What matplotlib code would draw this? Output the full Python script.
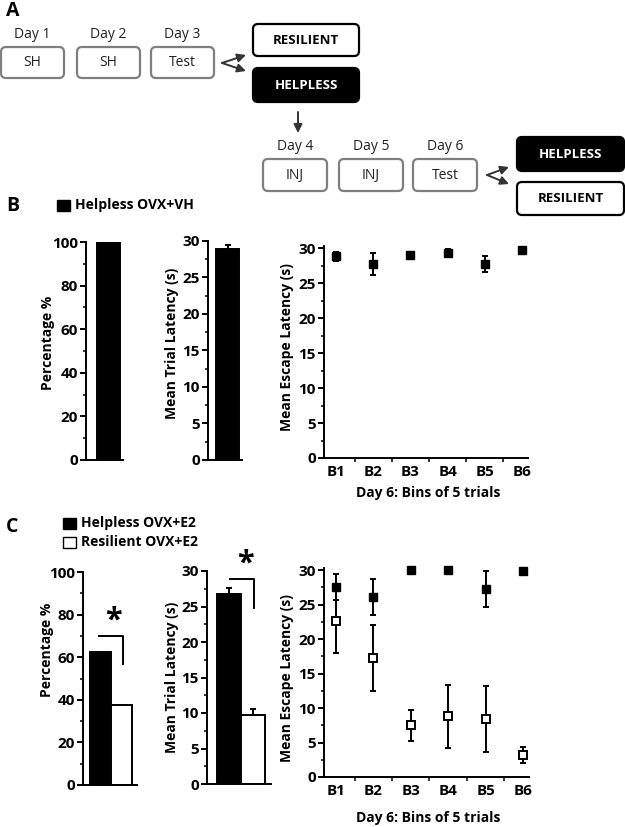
import matplotlib
matplotlib.use("Agg")
import matplotlib.pyplot as plt
from matplotlib.patches import FancyBboxPatch, Rectangle
from matplotlib.ticker import MultipleLocator, FixedLocator

plt.rcParams['font.family'] = ['Open Sans', 'DejaVu Sans']
plt.rcParams['font.weight'] = 'bold'

# ---------------- data ----------------
bins = ['B1', 'B2', 'B3', 'B4', 'B5', 'B6']

b_pct = [100]
b_trial = [28.9]
b_trial_err = [0.5]
b_escape = [28.8, 27.7, 29.0, 29.3, 27.7, 29.7]
b_escape_err = [0.6, 1.55, 0.5, 0.5, 1.15, 0.1]

c_pct = [62.5, 37.5]
c_trial = [26.8, 9.7]
c_trial_err = [0.8, 0.9]
c_help = [27.5, 26.1, 30.0, 30.0, 27.2, 29.9]
c_help_err = [1.9, 2.6, 0.0, 0.0, 2.6, 0.0]
c_res = [22.6, 17.2, 7.5, 8.8, 8.4, 3.2]
c_res_err = [4.6, 4.8, 2.25, 4.6, 4.75, 1.1]

legend_b = ['Helpless OVX+VH']
legend_c = ['Helpless OVX+E2', 'Resilient OVX+E2']

W, H = 625, 827
fig = plt.figure(figsize=(W / 100, H / 100), dpi=100)

LW = 1.4
TICKFS = 11
LABFS = 10


def ax_at(l, t, r, b):
    return fig.add_axes([l / W, 1 - b / H, (r - l) / W, (b - t) / H])


def style(ax):
    for s in ['top', 'right']:
        ax.spines[s].set_visible(False)
    for s in ['left', 'bottom']:
        ax.spines[s].set_linewidth(LW)
    ax.tick_params(axis='both', which='major', direction='out', width=LW, length=4,
                   labelsize=TICKFS, pad=2)
    ax.tick_params(axis='both', which='minor', direction='out', width=LW * 0.8, length=2.5)
    for lab in ax.get_yticklabels() + ax.get_xticklabels():
        lab.set_fontweight('bold')


def ylabel(ax, text, px_x, px_y, l, t, r, b):
    ax.set_ylabel(text, fontsize=LABFS, fontweight='bold')
    ax.yaxis.set_label_coords((px_x - l) / (r - l), (b - px_y) / (b - t))
    ax.yaxis.label.set_verticalalignment('center')


def bar_axis(box, vals, errs, ymax, major, minor, xl, colors, labx, laby, lab):
    l, t, r, b = box
    ax = ax_at(l, t, r, b)
    x = list(range(len(vals)))
    ax.bar(x, vals, width=1.0, color=colors, edgecolor='black', linewidth=LW, zorder=2)
    if errs is not None:
        ax.errorbar(x, vals, yerr=[[0] * len(errs), errs], fmt='none', ecolor='black',
                    elinewidth=LW, capsize=2.5, capthick=LW, zorder=3)
    ax.set_ylim(0, ymax)
    ax.set_xlim(*xl)
    ax.yaxis.set_major_locator(MultipleLocator(major))
    ax.yaxis.set_minor_locator(MultipleLocator(minor))
    ax.set_xticks([])
    style(ax)
    ylabel(ax, lab, labx, laby, l, t, r, b)
    return ax


def escape_axis(box, labx, laby, xlab_y):
    l, t, r, b = box
    ax = ax_at(l, t, r, b)
    ax.set_ylim(0, 30.3)
    ax.set_xlim(0.68, 6.16)
    ax.yaxis.set_major_locator(MultipleLocator(5))
    ax.yaxis.set_minor_locator(MultipleLocator(2.5))
    ax.set_xticks(range(1, 7))
    ax.set_xticklabels(bins)
    ax.xaxis.set_minor_locator(FixedLocator([1.5, 2.5, 3.5, 4.5, 5.5]))
    style(ax)
    ax.tick_params(axis='x', which='major', length=0, pad=5)
    ax.tick_params(axis='x', which='minor', length=3)
    ylabel(ax, 'Mean Escape Latency (s)', labx, laby, l, t, r, b)
    ax.set_xlabel('Day 6: Bins of 5 trials', fontsize=LABFS, fontweight='bold')
    ax.xaxis.set_label_coords((428 - l) / (r - l), (b - xlab_y) / (b - t))
    ax.xaxis.label.set_verticalalignment('center')
    return ax


xpos = list(range(1, 7))

# ---------------- panel A (flow chart) ----------------
fa = fig.add_axes([0, 0, 1, 1], zorder=-1)
fa.set_xlim(0, W)
fa.set_ylim(H, 0)
fa.axis('off')


def rbox(x0, y0, x1, y1, fc, ec, text, tc, fs, weight):
    p = FancyBboxPatch((x0, y0), x1 - x0, y1 - y0,
                       boxstyle='round,pad=0,rounding_size=5',
                       fc=fc, ec=ec, lw=1.6)
    fa.add_patch(p)
    fa.text((x0 + x1) / 2, (y0 + y1) / 2 + 0.5, text, ha='center', va='center',
            color=tc, fontsize=fs, fontweight=weight)


GRAY = '#7f7f7f'
DAYFS = 10
top_days = [('Day 1', 'SH', 1, 64), ('Day 2', 'SH', 77, 140), ('Day 3', 'Test', 151, 214)]
for d, s, x0, x1 in top_days:
    rbox(x0, 47, x1, 78, 'white', GRAY, s, '#222222', DAYFS, 'normal')
    fa.text((x0 + x1) / 2, 35, d, ha='center', va='center', fontsize=DAYFS,
            fontweight='normal', color='#222222')
bot_days = [('Day 4', 'INJ', 263, 327), ('Day 5', 'INJ', 339, 403), ('Day 6', 'Test', 413, 477)]
for d, s, x0, x1 in bot_days:
    rbox(x0, 159, x1, 191, 'white', GRAY, s, '#222222', DAYFS, 'normal')
    fa.text((x0 + x1) / 2, 147, d, ha='center', va='center', fontsize=DAYFS,
            fontweight='normal', color='#222222')

BOXFS = 9.5
rbox(253, 24, 359, 56, 'white', 'black', 'RESILIENT', 'black', BOXFS, 'bold')
rbox(253, 68, 359, 102, 'black', 'black', 'HELPLESS', 'white', BOXFS, 'bold')
rbox(517, 137, 624, 171, 'black', 'black', 'HELPLESS', 'white', BOXFS, 'bold')
rbox(517, 182, 624, 215, 'white', 'black', 'RESILIENT', 'black', BOXFS, 'bold')

ap = dict(arrowstyle='-|>,head_length=0.5,head_width=0.25', color='#333333', lw=1.4,
          shrinkA=0, shrinkB=0)
for (sx, sy), ends in [((222, 63), [(246, 55), (246, 71)]), ((487, 175), [(509, 167), (509, 184)])]:
    for ex, ey in ends:
        fa.annotate('', xy=(ex, ey), xytext=(sx, sy), arrowprops=ap)
fa.annotate('', xy=(298, 133), xytext=(298, 112), arrowprops=ap)

fa.text(6, 11, 'A', fontsize=14, fontweight='bold', ha='left', va='center')
fa.text(6, 206, 'B', fontsize=14, fontweight='bold', ha='left', va='center')
fa.text(6, 527, 'C', fontsize=14, fontweight='bold', ha='left', va='center')

# legends
LEGFS = 10
fa.add_patch(Rectangle((57, 200), 13, 11, fc='black', ec='black', lw=1))
fa.text(75, 205.5, legend_b[0], fontsize=LEGFS, fontweight='bold', ha='left', va='center')
fa.add_patch(Rectangle((63, 518), 13, 11, fc='black', ec='black', lw=1))
fa.text(81, 523.5, legend_c[0], fontsize=LEGFS, fontweight='bold', ha='left', va='center')
fa.add_patch(Rectangle((63, 537), 13, 11, fc='white', ec='black', lw=1))
fa.text(81, 542.5, legend_c[1], fontsize=LEGFS, fontweight='bold', ha='left', va='center')

# ---------------- panel B ----------------
bar_axis((86, 242, 123, 460), b_pct, None, 100, 20, 10, (-0.98, 0.64), ['black'],
         48, 343, 'Percentage %')
bar_axis((208, 241, 242, 460), b_trial, b_trial_err, 30, 5, 2.5, (-0.85, 0.63), ['black'],
         172, 343, 'Mean Trial Latency (s)')
axb = escape_axis((324, 246, 528, 458), 287, 347, 493)
axb.errorbar(xpos, b_escape, yerr=b_escape_err, fmt='s', color='black', ms=6,
             elinewidth=LW, capsize=2.5, capthick=LW, clip_on=False, zorder=3)

# ---------------- panel C ----------------
axc1 = bar_axis((83, 572, 137, 785), c_pct, None, 100, 20, 10, (-0.81, 1.76),
                ['black', 'white'], 47, 650, 'Percentage %')
axc1.plot([-0.05, 1.1, 1.1], [70, 70, 57], color='black', lw=LW, clip_on=False)
axc1.text(0.62, 77, '*', fontsize=22, fontweight='bold', ha='center', va='center')

axc2 = bar_axis((207, 571, 271, 784), c_trial, c_trial_err, 30, 5, 2.5, (-0.92, 1.75),
                ['black', 'white'], 172, 677, 'Mean Trial Latency (s)')
axc2.plot([0.04, 1.04, 1.04], [28.9, 28.9, 24.8], color='black', lw=LW, clip_on=False)
axc2.text(0.67, 31.0, '*', fontsize=22, fontweight='bold', ha='center', va='center',
          clip_on=False)

axc3 = escape_axis((324, 568, 529, 777), 287, 678, 818)
axc3.errorbar(xpos, c_help, yerr=c_help_err, fmt='s', color='black', ms=6,
              elinewidth=LW, capsize=2.5, capthick=LW, clip_on=False, zorder=3)
axc3.errorbar(xpos, c_res, yerr=c_res_err, fmt='s', color='black', mfc='white',
              mec='black', mew=1.4, ms=6, elinewidth=LW, capsize=2.5, capthick=LW,
              clip_on=False, zorder=4)

fig.savefig('out.png', dpi=100)
